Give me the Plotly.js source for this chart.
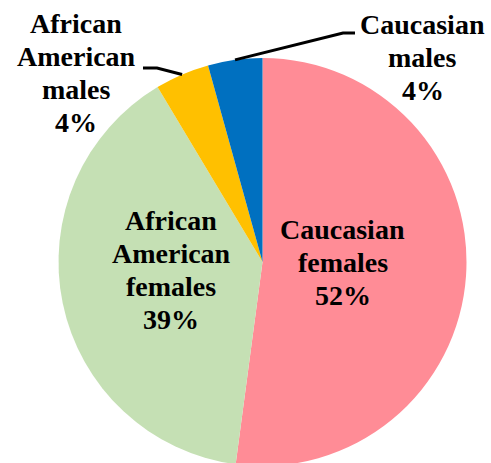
<!DOCTYPE html>
<html>
<head>
<meta charset="utf-8">
<script src="https://cdn.plot.ly/plotly-3.0.1.min.js"></script>
<style>
html, body { margin: 0; padding: 0; overflow: hidden; background: #fff; }
#chart { width: 491px; height: 466px; }
#warm { position: absolute; left: 2px; top: 425px; z-index: 10; color: #fff; font-family: 'Liberation Serif'; font-weight: bold; font-size: 28px; }
</style>
</head>
<body>
<div id="warm" aria-hidden="true">.</div>
<div id="chart"></div>
<script>
// ---- data ----
const categories = ['Caucasian females', 'African American females', 'African American males', 'Caucasian males'];
const values = [52.1, 39.3, 4.3, 4.3];
const pctLabels = ['52%', '39%', '4%', '4%'];
const labelLines = [['Caucasian', 'females'], ['African', 'American', 'females'], ['African', 'American', 'males'], ['Caucasian', 'males']];
const colors = ['#FF8C96', '#C5E0B4', '#FFC000', '#0070C0'];

// ---- layout geometry ----
const W = 491, H = 466;
const cx = 262.5, cy = 262, R = 204;
const labelCenters = [[342.5, 262], [171, 270], [76, 73], [422.5, 57]];
const leaderElbows = [null, null, [[157, 68], [143, 68]], [[343, 33], [355, 33]]];
const lineGap = 33;

const annotations = [];
categories.forEach((c, i) => {
  const lines = labelLines[i].concat([pctLabels[i]]);
  const n = lines.length;
  lines.forEach((t, j) => {
    const py = labelCenters[i][1] + (j - (n - 1) / 2) * lineGap;
    annotations.push({
      xref: 'paper', yref: 'paper',
      x: labelCenters[i][0] / W, y: 1 - py / H,
      xanchor: 'center', yanchor: 'middle',
      text: t, showarrow: false,
      font: { family: 'Liberation Serif', size: 28, weight: 'bold', color: '#000' }
    });
  });
});

const total = values.reduce((a, b) => a + b, 0);
const shapes = [];
let cum = 0;
values.forEach((v, i) => {
  const mid = (cum + v / 2) / total;
  cum += v;
  if (!leaderElbows[i]) return;
  const a = mid * 2 * Math.PI;
  const sx = cx + R * Math.sin(a), sy = cy - R * Math.cos(a);
  const pts = [[sx, sy]].concat(leaderElbows[i]);
  const path = pts.map((p, k) => (k ? 'L' : 'M') + (p[0] / W).toFixed(5) + ',' + (1 - p[1] / H).toFixed(5)).join(' ');
  shapes.push({ type: 'path', xref: 'paper', yref: 'paper', path: path, line: { color: '#000', width: 3 } });
});

const trace = {
  type: 'pie',
  labels: categories,
  values: values,
  sort: false,
  direction: 'clockwise',
  rotation: 0,
  textinfo: 'none',
  hoverinfo: 'label+percent',
  marker: { colors: colors, line: { width: 0 } },
  domain: { x: [(cx - R) / W, (cx + R) / W], y: [(H - cy - R) / H, (H - cy + R) / H] },
  showlegend: false
};

Plotly.newPlot('chart', [trace], {
  width: W, height: H,
  margin: { l: 0, r: 0, t: 0, b: 0 },
  paper_bgcolor: '#fff',
  font: { color: '#000' },
  showlegend: false,
  annotations: annotations,
  shapes: shapes
}, { displayModeBar: false, staticPlot: true }).then(() => {
  const w = document.getElementById('warm');
  w.textContent = ' .';
});
</script>
</body>
</html>
